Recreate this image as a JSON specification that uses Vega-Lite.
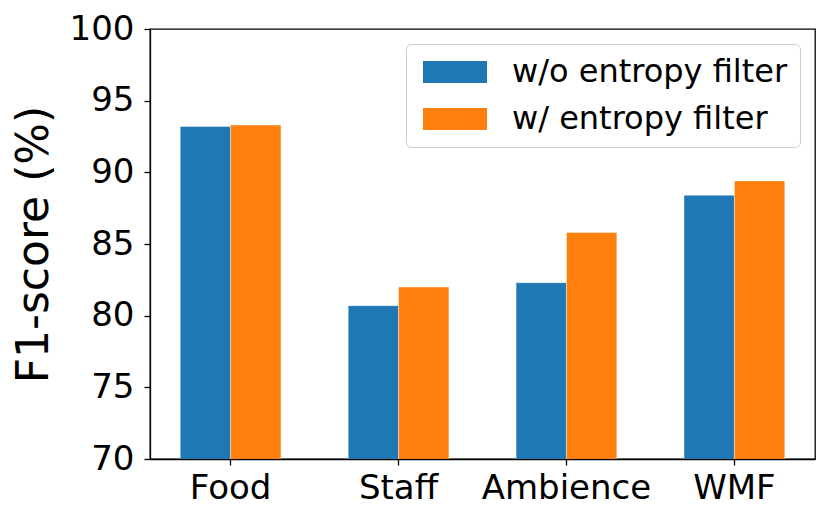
{
  "$schema": "https://vega.github.io/schema/vega-lite/v6.json",
  "width": 665,
  "height": 430,
  "autosize": {"type": "none"},
  "padding": {"left": 150, "top": 29, "right": 15, "bottom": 66},
  "background": "white",
  "config": {
    "font": "DejaVu Sans",
    "view": {"stroke": "black", "strokeWidth": 1.3},
    "axis": {
      "domainColor": "black",
      "tickColor": "black",
      "labelColor": "black",
      "titleColor": "black",
      "grid": false,
      "domainWidth": 1.3,
      "tickWidth": 1.3,
      "tickSize": 6,
      "labelFont": "DejaVu Sans",
      "titleFont": "DejaVu Sans",
      "labelFontSize": 34,
      "titleFontSize": 44,
      "titleFontWeight": "normal",
      "labelOverlap": false,
      "labelLimit": 0
    },
    "legend": {
      "labelFont": "DejaVu Sans",
      "labelFontSize": 32,
      "labelColor": "black",
      "labelLimit": 0
    }
  },
  "data": {
    "values": [
      {"aspect": "Food", "method": "w/o entropy filter", "f1": 93.2},
      {"aspect": "Food", "method": "w/ entropy filter", "f1": 93.3},
      {"aspect": "Staff", "method": "w/o entropy filter", "f1": 80.7},
      {"aspect": "Staff", "method": "w/ entropy filter", "f1": 82.0},
      {"aspect": "Ambience", "method": "w/o entropy filter", "f1": 82.3},
      {"aspect": "Ambience", "method": "w/ entropy filter", "f1": 85.8},
      {"aspect": "WMF", "method": "w/o entropy filter", "f1": 88.4},
      {"aspect": "WMF", "method": "w/ entropy filter", "f1": 89.4}
    ]
  },
  "mark": {"type": "bar", "clip": true, "stroke": "white", "strokeWidth": 0.8, "strokeOpacity": 0.5},
  "encoding": {
    "x": {
      "field": "aspect",
      "type": "nominal",
      "sort": ["Food", "Staff", "Ambience", "WMF"],
      "scale": {"paddingInner": 0.4, "paddingOuter": 0.18},
      "axis": {"title": null, "labelAngle": 0, "labelPadding": 6}
    },
    "xOffset": {
      "field": "method",
      "type": "nominal",
      "sort": ["w/o entropy filter", "w/ entropy filter"],
      "scale": {"paddingInner": 0, "paddingOuter": 0}
    },
    "y": {
      "field": "f1",
      "type": "quantitative",
      "scale": {"domain": [70, 100], "nice": false, "zero": false},
      "axis": {"title": "F1-score (%)", "values": [70, 75, 80, 85, 90, 95, 100], "labelPadding": 10, "titlePadding": 13}
    },
    "color": {
      "field": "method",
      "type": "nominal",
      "sort": ["w/o entropy filter", "w/ entropy filter"],
      "scale": {"domain": ["w/o entropy filter", "w/ entropy filter"], "range": ["#1f77b4", "#ff7f0e"]},
      "legend": {
        "title": null,
        "orient": "top-right",
        "offset": 15,
        "padding": 12,
        "fillColor": "rgba(255,255,255,0.8)",
        "strokeColor": "#cccccc",
        "cornerRadius": 5,
        "symbolType": "M-1,-1L4.818,-1L4.818,1L-1,1Z",
        "symbolSize": 484,
        "symbolOpacity": 1,
        "symbolStrokeWidth": 0,
        "labelOffset": 62,
        "rowPadding": 15
      }
    }
  }
}
